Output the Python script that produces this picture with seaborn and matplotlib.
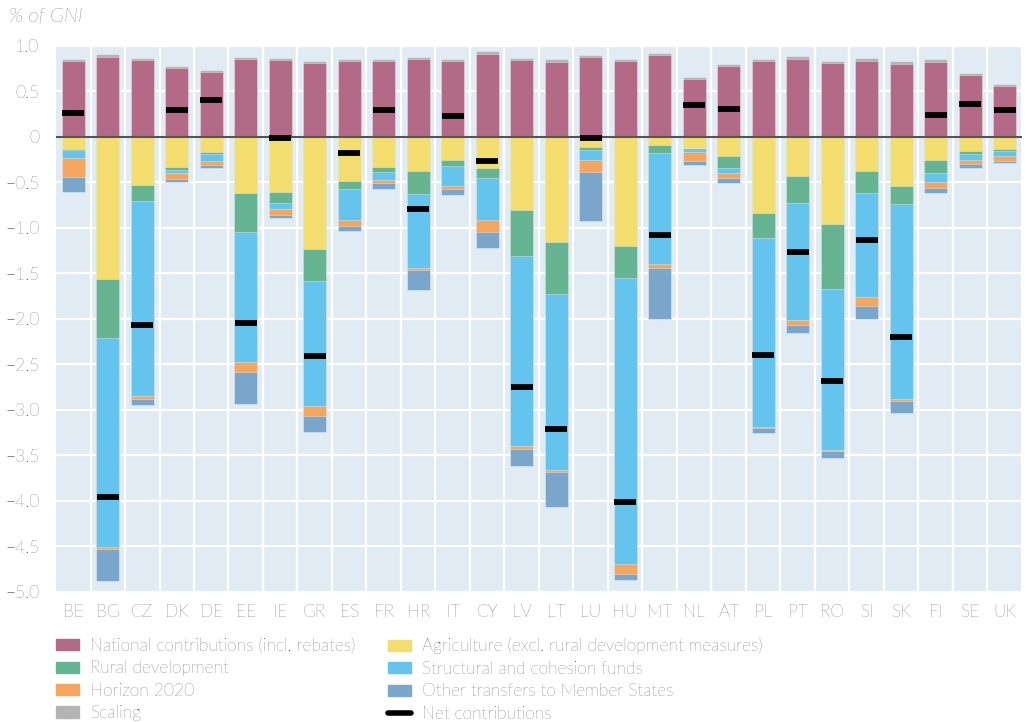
import numpy as np
import pandas as pd
import matplotlib
matplotlib.use('Agg')
import matplotlib.pyplot as plt
from matplotlib.lines import Line2D
from matplotlib.patches import Patch
from matplotlib.ticker import FuncFormatter, MultipleLocator
import seaborn as sns

countries = ['BE', 'BG', 'CZ', 'DK', 'DE', 'EE', 'IE', 'GR', 'ES', 'FR', 'HR', 'IT', 'CY', 'LV',
             'LT', 'LU', 'HU', 'MT', 'NL', 'AT', 'PL', 'PT', 'RO', 'SI', 'SK', 'FI', 'SE', 'UK']

# % of GNI
national = [0.830, 0.875, 0.842, 0.755, 0.714, 0.853, 0.842, 0.810, 0.832, 0.832, 0.853, 0.832, 0.916, 0.846,
            0.824, 0.875, 0.832, 0.897, 0.634, 0.777, 0.832, 0.853, 0.813, 0.839, 0.806, 0.824, 0.678, 0.560]
scaling = [0.030, 0.033, 0.030, 0.029, 0.026, 0.026, 0.030, 0.029, 0.029, 0.029, 0.030, 0.029, 0.033, 0.026,
           0.029, 0.030, 0.029, 0.030, 0.029, 0.029, 0.029, 0.033, 0.026, 0.029, 0.026, 0.029, 0.025, 0.026]
agriculture = [-0.135, -1.564, -0.531, -0.333, -0.161, -0.615, -0.604, -1.234, -0.487, -0.333, -0.370, -0.249, -0.344, -0.806,
               -1.158, -0.114, -1.198, -0.088, -0.117, -0.209, -0.832, -0.429, -0.960, -0.370, -0.542, -0.256, -0.150, -0.136]
rural = [-0.012, -0.648, -0.176, -0.033, -0.029, -0.425, -0.125, -0.352, -0.081, -0.048, -0.256, -0.066, -0.103, -0.498,
         -0.564, -0.033, -0.348, -0.084, -0.010, -0.128, -0.274, -0.300, -0.714, -0.242, -0.191, -0.143, -0.040, -0.018]
structural = [-0.087, -2.293, -2.146, -0.034, -0.077, -1.439, -0.066, -1.374, -0.348, -0.088, -0.810, -0.220, -0.461, -2.098,
              -1.937, -0.109, -3.150, -1.220, -0.034, -0.055, -2.087, -1.282, -1.766, -1.150, -2.153, -0.092, -0.059, -0.058]
horizon = [-0.206, -0.022, -0.033, -0.065, -0.041, -0.110, -0.058, -0.106, -0.066, -0.040, -0.026, -0.040, -0.136, -0.030,
           -0.022, -0.125, -0.109, -0.048, -0.103, -0.062, -0.011, -0.058, -0.018, -0.095, -0.015, -0.069, -0.051, -0.052]
other = [-0.170, -0.352, -0.059, -0.033, -0.029, -0.345, -0.037, -0.183, -0.055, -0.066, -0.216, -0.062, -0.172, -0.187,
         -0.388, -0.542, -0.070, -0.567, -0.047, -0.048, -0.055, -0.088, -0.069, -0.147, -0.132, -0.055, -0.041, -0.025]
net = [0.260, -3.956, -2.069, 0.293, 0.403, -2.044, -0.011, -2.410, -0.179, 0.293, -0.795, 0.227, -0.267, -2.751,
       -3.212, -0.011, -4.014, -1.081, 0.348, 0.304, -2.399, -1.267, -2.685, -1.136, -2.201, 0.238, 0.359, 0.293]

labels_left = ['National contributions (incl. rebates)', 'Rural development', 'Horizon 2020', 'Scaling']
labels_right = ['Agriculture (excl. rural development measures)', 'Structural and cohesion funds',
                'Other transfers to Member States', 'Net contributions']
colors = {'national': '#b36a86', 'scaling': '#b4b4b4', 'agriculture': '#f2dd6e', 'rural': '#66b491',
          'structural': '#64c4ed', 'horizon': '#f4a55e', 'other': '#7ba6cb'}

df = pd.DataFrame({'country': countries, 'national': national, 'scaling': scaling,
                   'agriculture': agriculture, 'rural': rural, 'structural': structural,
                   'horizon': horizon, 'other': other, 'net': net})

sns.set_theme(style='darkgrid', rc={'axes.facecolor': '#e1ebf4', 'grid.color': 'white',
                                    'grid.linewidth': 1.6, 'axes.edgecolor': '#e1ebf4'})
plt.rcParams['font.family'] = ['Lato', 'DejaVu Sans']
plt.rcParams['font.weight'] = 'light'
txt_color = '#1e1e1e'
fsize = 12.5

fig = plt.figure(figsize=(10.26, 7.22), dpi=100)
ax = fig.add_axes([0.0546, 0.1805, 0.9414, 0.7558])

# stacked bars drawn as overlapping cumulative totals (largest first)
pos_stack = ['national', 'scaling']
neg_stack = ['agriculture', 'rural', 'structural', 'horizon', 'other']
pos_cum = df[pos_stack].cumsum(axis=1)
neg_cum = df[neg_stack].cumsum(axis=1)
for key in reversed(pos_stack):
    sns.barplot(x=df['country'], y=pos_cum[key], color=colors[key], saturation=1, width=0.66,
                errorbar=None, ax=ax, edgecolor=(1, 1, 1, 0.35), linewidth=0.7)
for key in reversed(neg_stack):
    sns.barplot(x=df['country'], y=neg_cum[key], color=colors[key], saturation=1, width=0.66,
                errorbar=None, ax=ax, edgecolor=(1, 1, 1, 0.35), linewidth=0.7)

xpos = np.arange(len(countries))
ax.hlines(df['net'], xpos - 0.32, xpos + 0.32, color='black', lw=4.2, zorder=5)
ax.axhline(0, color='#555555', lw=1.5, zorder=4)

ax.set_ylim(-5, 1)
ax.set_xlim(-0.5, len(countries) - 0.5)
ax.yaxis.set_major_locator(MultipleLocator(0.5))
ax.yaxis.set_major_formatter(FuncFormatter(lambda v, p: '0' if abs(v) < 1e-9 else f'{v:.1f}'.replace('-', '\u2212')))
ax.set_xticks(xpos + 0.5, minor=True)
ax.grid(which='major', axis='x', visible=False)
ax.grid(which='minor', axis='x', color='white', lw=1.6)
ax.grid(which='major', axis='y', color='white', lw=1.6)
ax.set_axisbelow(True)
ax.set_xlabel('')
ax.set_ylabel('')
ax.tick_params(axis='both', which='both', length=0, labelsize=fsize, colors=txt_color)
ax.tick_params(axis='x', pad=9)
ax.tick_params(axis='y', pad=12)
for s in ax.spines.values():
    s.set_visible(False)

fig.text(0.009, 0.976, '% of GNI', fontsize=14.5, style='italic', color=txt_color, va='center', ha='left')

handles_left = [Patch(color=colors[k]) for k in ['national', 'rural', 'horizon', 'scaling']]
handles_right = [Patch(color=colors[k]) for k in ['agriculture', 'structural', 'other']]
handles_right.append(Line2D([0], [0], color='black', lw=4))
leg_kw = dict(loc='upper left', frameon=False, fontsize=fsize, handlelength=1.32, handleheight=0.62,
              handletextpad=0.62, labelspacing=0.37, borderaxespad=0, borderpad=0, labelcolor=txt_color)
fig.legend(handles_left, labels_left, bbox_to_anchor=(56 / 1026, 0.1165), **leg_kw)
fig.legend(handles_right, labels_right, bbox_to_anchor=(388 / 1026, 0.1165), **leg_kw)

fig.savefig('out.png', dpi=100)
